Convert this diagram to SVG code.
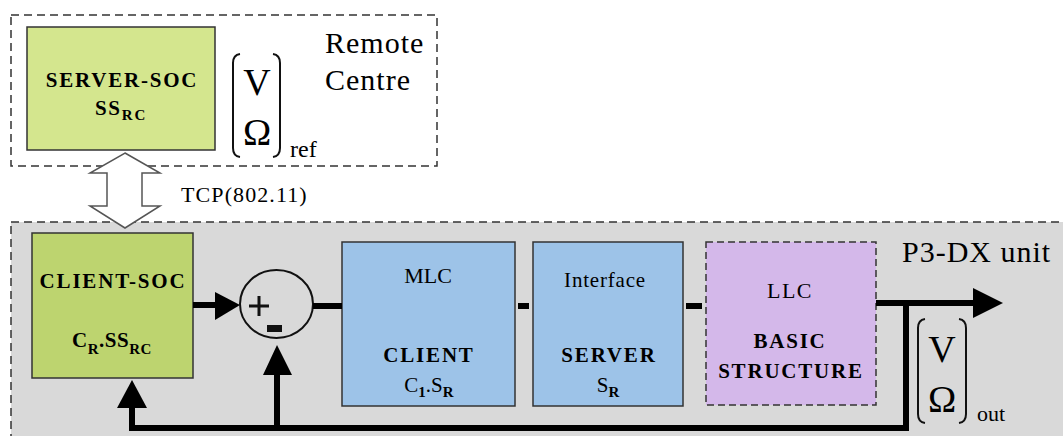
<svg xmlns="http://www.w3.org/2000/svg" width="1063" height="436" viewBox="0 0 1063 436">
  <g id="remote-centre">
    <rect x="11" y="15" width="426" height="151" fill="#ffffff" stroke="#333333" stroke-width="1.5" stroke-dasharray="8 5"/>
    <text font-family="Liberation Serif" font-size="30" letter-spacing="1" x="325" y="53">Remote</text>
    <text font-family="Liberation Serif" font-size="30" letter-spacing="1" x="325" y="90">Centre</text>
  </g>
  <g id="p3dx-unit">
    <rect x="11" y="222" width="1060" height="220" fill="#d9d9d9" stroke="#333333" stroke-width="1.5" stroke-dasharray="8 5"/>
    <text font-family="Liberation Serif" font-size="30" letter-spacing="1" x="902" y="262">P3-DX unit</text>
  </g>
  <g id="server-soc">
    <rect x="27" y="27" width="188" height="123" fill="#d4e68e" stroke="#333333" stroke-width="1.5"/>
    <text font-family="Liberation Serif" font-size="21" font-weight="bold" letter-spacing="1.8" x="122" y="87" text-anchor="middle">SERVER-SOC</text>
    <text font-family="Liberation Serif" font-size="21" font-weight="bold" letter-spacing="1.8" x="121" y="115" text-anchor="middle">SS<tspan font-size="15" dy="5">RC</tspan></text>
  </g>
  <g id="ref-vector">
    <path d="M240 54 Q233 55 233 63 L233 148 Q233 156 240 157" fill="none" stroke="#111111" stroke-width="2"/>
    <path d="M273 54 Q280 55 280 63 L280 148 Q280 156 273 157" fill="none" stroke="#111111" stroke-width="2"/>
    <text font-family="Liberation Serif" font-size="38" x="257" y="95" text-anchor="middle">V</text>
    <text font-family="Liberation Serif" font-size="38" x="257" y="145" text-anchor="middle">&#937;</text>
    <text font-family="Liberation Serif" font-size="24" x="290" y="157">ref</text>
  </g>
  <g id="client-soc">
    <rect x="32" y="233" width="161" height="145" fill="#bdd46f" stroke="#333333" stroke-width="1.5"/>
    <text font-family="Liberation Serif" font-size="21" font-weight="bold" letter-spacing="1.8" x="113" y="288" text-anchor="middle">CLIENT-SOC</text>
    <text font-family="Liberation Serif" font-size="21" font-weight="bold" letter-spacing="0.5" x="112" y="347" text-anchor="middle">C<tspan font-size="15" dy="7">R</tspan><tspan dy="-7">.SS</tspan><tspan font-size="15" dy="7">RC</tspan></text>
  </g>
  <g id="summing-junction">
    <ellipse cx="276.5" cy="304" rx="36.5" ry="34" fill="none" stroke="#111111" stroke-width="2"/>
    <path d="M249 306 H269 M259 296 V316" stroke="#111111" stroke-width="3"/>
    <rect x="267" y="325" width="15" height="7" fill="#111111"/>
  </g>
  <g id="mlc-client">
    <rect x="342" y="242" width="173" height="164" fill="#9dc3e8" stroke="#333333" stroke-width="1.5"/>
    <text font-family="Liberation Serif" font-size="22" x="428" y="283" text-anchor="middle">MLC</text>
    <text font-family="Liberation Serif" font-size="21" font-weight="bold" letter-spacing="1.8" x="429" y="362" text-anchor="middle">CLIENT</text>
    <text font-family="Liberation Serif" font-size="21" x="429" y="392" text-anchor="middle">C<tspan font-size="15" font-weight="bold" dy="5">1</tspan><tspan dy="-5">.S</tspan><tspan font-size="15" font-weight="bold" dy="5">R</tspan></text>
  </g>
  <g id="interface-server">
    <rect x="533" y="242" width="150" height="164" fill="#9dc3e8" stroke="#333333" stroke-width="1.5"/>
    <text font-family="Liberation Serif" font-size="21" letter-spacing="0.8" x="605" y="287" text-anchor="middle">Interface</text>
    <text font-family="Liberation Serif" font-size="21" font-weight="bold" letter-spacing="1.8" x="609" y="362" text-anchor="middle">SERVER</text>
    <text font-family="Liberation Serif" font-size="21" x="608" y="392" text-anchor="middle">S<tspan font-size="15" font-weight="bold" dy="5">R</tspan></text>
  </g>
  <g id="llc-basic-structure">
    <rect x="706" y="242" width="170" height="163" fill="#d4b8ea" stroke="#333333" stroke-width="1.5" stroke-dasharray="7 4"/>
    <text font-family="Liberation Serif" font-size="22" letter-spacing="1.5" x="790" y="298" text-anchor="middle">LLC</text>
    <text font-family="Liberation Serif" font-size="21" font-weight="bold" letter-spacing="1.8" x="790" y="348" text-anchor="middle">BASIC</text>
    <text font-family="Liberation Serif" font-size="21" font-weight="bold" letter-spacing="1.8" x="791" y="378" text-anchor="middle">STRUCTURE</text>
  </g>
  <g id="out-vector">
    <path d="M925 319 Q918 320 918 328 L918 414 Q918 422 925 423" fill="none" stroke="#111111" stroke-width="2"/>
    <path d="M959 319 Q966 320 966 328 L966 414 Q966 422 959 423" fill="none" stroke="#111111" stroke-width="2"/>
    <text font-family="Liberation Serif" font-size="38" x="942" y="362" text-anchor="middle">V</text>
    <text font-family="Liberation Serif" font-size="38" x="942" y="412" text-anchor="middle">&#937;</text>
    <text font-family="Liberation Serif" font-size="22" x="977" y="421">out</text>
  </g>
  <g id="connectors">
    <polygon id="tcp-link" points="125,153 160,173 142,173 142,206 160,206 125,228 90,206 107,206 107,173 90,173" fill="#ffffff" stroke="#555555" stroke-width="1.5"/>
    <text font-family="Liberation Serif" font-size="22" letter-spacing="1.1" x="181" y="202">TCP(802.11)</text>
    <line x1="193" y1="305" x2="217" y2="305" stroke="#000000" stroke-width="6"/>
    <polygon points="240,305 215,292 215,320" fill="#000000"/>
    <line x1="313" y1="306" x2="342" y2="306" stroke="#000000" stroke-width="6"/>
    <line x1="518" y1="306" x2="529" y2="306" stroke="#000000" stroke-width="6"/>
    <line x1="686" y1="306" x2="702" y2="306" stroke="#000000" stroke-width="6"/>
    <line x1="876" y1="303" x2="975" y2="303" stroke="#000000" stroke-width="6"/>
    <polygon points="1003,303 973,288 973,318" fill="#000000"/>
    <polyline points="906,303 906,428 132,428 132,405" fill="none" stroke="#000000" stroke-width="6"/>
    <polygon points="132,380 117,408 147,408" fill="#000000"/>
    <line x1="277" y1="428" x2="277" y2="372" stroke="#000000" stroke-width="6"/>
    <polygon points="277,345 263,375 292,375" fill="#000000"/>
  </g>
</svg>
